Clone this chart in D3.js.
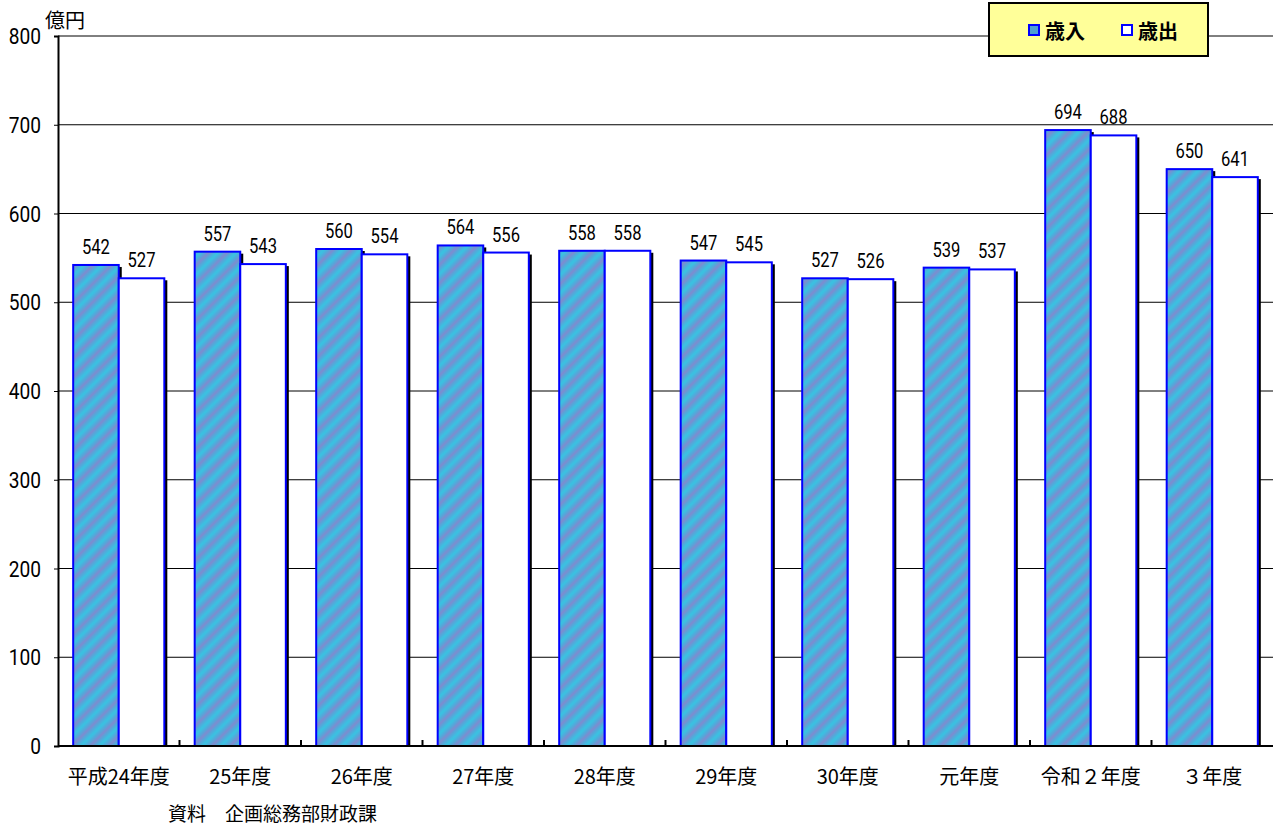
<!DOCTYPE html>
<html><head><meta charset="utf-8">
<script src="https://cdn.jsdelivr.net/npm/d3@7/dist/d3.min.js"></script>
<style>
body{margin:0;background:#fff;}
svg{display:block;font-family:"Noto Sans CJK JP","Noto Sans",sans-serif;}
</style></head><body>
<svg id="c" width="1275" height="827"></svg>
<script>
const categories = ["平成24年度","25年度","26年度","27年度","28年度","29年度","30年度","元年度","令和２年度","３年度"];
const revenue = [542,557,560,564,558,547,527,539,694,650];
const expenditure = [527,543,554,556,558,545,526,537,688,641];
const seriesNames = ["歳入","歳出"];
const yTicks = [0,100,200,300,400,500,600,700,800];

const svg = d3.select("#c");
const L=58, R=1273, T=36, B=746;
const y = d3.scaleLinear().domain([0,800]).range([B,T]);
const x = d3.scaleBand().domain(categories).range([L,R]).paddingInner(0.25).paddingOuter(0.125);
const xs = d3.scaleBand().domain(seriesNames).range([0,x.bandwidth()]);

// pattern
const defs = svg.append("defs");
const gr = defs.append("linearGradient").attr("id","sg").attr("x1","0").attr("x2","1").attr("y1","0").attr("y2","0");
[[0,"#38c4e2"],[0.25,"#52a9da"],[0.5,"#7d8ccf"],[0.75,"#52a9da"],[1,"#38c4e2"]].forEach(([o,c])=>
  gr.append("stop").attr("offset",o).attr("stop-color",c));
const pat = defs.append("pattern").attr("id","stripe").attr("patternUnits","userSpaceOnUse")
  .attr("width",13).attr("height",13).attr("patternTransform","rotate(45)");
pat.append("rect").attr("width",13).attr("height",13).attr("fill","url(#sg)");

// gridlines
svg.append("g").selectAll("line").data(yTicks.filter(d=>d>0)).join("line")
  .attr("x1",L).attr("x2",R).attr("y1",d=>y(d)).attr("y2",d=>y(d))
  .attr("stroke","#000").attr("stroke-width",1);

// y axis
const yAxis = svg.append("g").attr("transform",`translate(${L},0)`)
  .call(d3.axisLeft(y).tickValues(yTicks).tickSize(4).tickPadding(16));
yAxis.select(".domain").attr("stroke","#000").attr("stroke-width",2);
yAxis.selectAll(".tick text").attr("font-size",22).attr("fill","#000").attr("font-family","Roboto,sans-serif")
  .attr("transform","scale(0.87,1)").attr("x",-17/0.87).attr("dy","0.35em");
yAxis.selectAll(".tick line").attr("stroke","#000");

svg.append("text").attr("x",45).attr("y",28).attr("font-size",20).attr("fill","#000").text("億円");

const data = categories.map((c,i)=>({c, vals:[revenue[i],expenditure[i]]}));
const groups = svg.append("g").selectAll("g").data(data).join("g")
  .attr("transform",d=>`translate(${x(d.c)},0)`);

// shadows
groups.selectAll("rect.sh").data(d=>d.vals.map((v,j)=>({v,s:seriesNames[j]}))).join("rect")
  .attr("class","sh")
  .attr("x",d=>xs(d.s)+3).attr("y",d=>y(d.v)+2)
  .attr("width",xs.bandwidth()).attr("height",d=>B-y(d.v)-2).attr("fill","#000");
groups.selectAll("rect.bar").data(d=>d.vals.map((v,j)=>({v,s:seriesNames[j]}))).join("rect")
  .attr("class","bar")
  .attr("x",d=>xs(d.s)).attr("y",d=>y(d.v))
  .attr("width",xs.bandwidth()).attr("height",d=>B-y(d.v))
  .attr("fill",d=>d.s==="歳入"?"url(#stripe)":"#fff")
  .attr("stroke","#0000ff").attr("stroke-width",2);
groups.selectAll("text.v").data(d=>d.vals.map((v,j)=>({v,s:seriesNames[j]}))).join("text")
  .attr("class","v")
  .attr("x",d=>xs(d.s)+xs.bandwidth()/2).attr("y",d=>y(d.v)-11)
  .attr("text-anchor","middle").attr("font-size",20).attr("fill","#000")
  .attr("font-family","Roboto,sans-serif")
  .attr("transform",d=>`translate(${xs(d.s)+xs.bandwidth()/2},0) scale(0.83,1) translate(${-(xs(d.s)+xs.bandwidth()/2)},0)`)
  .text(d=>d.v);

// x axis
svg.append("line").attr("x1",L).attr("x2",R).attr("y1",B).attr("y2",B).attr("stroke","#000").attr("stroke-width",2);
const step = x.step();
svg.append("g").selectAll("line").data(categories.slice(1)).join("line")
  .attr("x1",d=>x(d)-x.paddingInner()*step/2).attr("x2",d=>x(d)-x.paddingInner()*step/2)
  .attr("y1",B).attr("y2",B-6).attr("stroke","#000").attr("stroke-width",2);
svg.append("g").selectAll("text").data(categories).join("text")
  .attr("x",d=>x(d)+x.bandwidth()/2).attr("y",784)
  .attr("text-anchor","middle").attr("font-size",20).attr("fill","#000").text(d=>d);

svg.append("text").attr("x",168).attr("y",821).attr("font-size",19).attr("fill","#000").text("資料　企画総務部財政課");

// legend
const lg = svg.append("g");
lg.append("rect").attr("x",989).attr("y",3).attr("width",219).attr("height",53)
  .attr("fill","#ffff99").attr("stroke","#000").attr("stroke-width",2);
const lx=[1029,1122];
seriesNames.forEach((s,i)=>{
  lg.append("rect").attr("x",lx[i]).attr("y",25).attr("width",10).attr("height",10)
    .attr("fill",i===0?"#4f9fd3":"#fff").attr("stroke","#0000ff").attr("stroke-width",2);
  lg.append("text").attr("x",lx[i]+16).attr("y",39).attr("font-size",20).attr("font-weight","bold").attr("fill","#000").text(s);
});
</script></body></html>
